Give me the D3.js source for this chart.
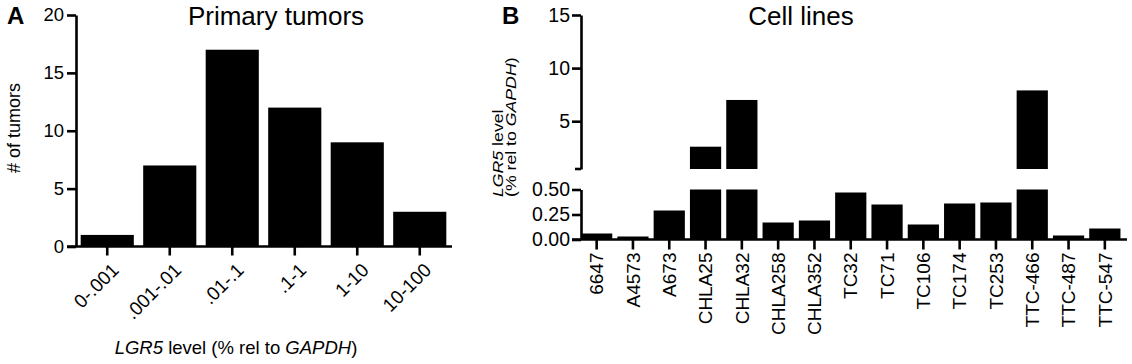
<!DOCTYPE html>
<html>
<head>
<meta charset="utf-8">
<script src="https://cdn.jsdelivr.net/npm/d3@7"></script>
<style>
  body { margin: 0; background: #fff; }
  svg text { font-family: 'Liberation Sans', Arial, sans-serif; fill: #000; }
  .axis path, .axis line { stroke: #000; stroke-width: 2.6; }
  .axis text { font-size: 18.5px; }
</style>
</head>
<body>
<div id="chart"></div>
<script>
// panel A: primary tumors histogram
const bins = ['0-.001', '.001-.01', '.01-.1', '.1-1', '1-10', '10-100']
const tumorCounts = [1, 7, 17, 12, 9, 3]
const tumorTicks = [0, 5, 10, 15, 20]

// panel B: cell lines, broken y axis
const cellLines = ['6647', 'A4573', 'A673', 'CHLA25', 'CHLA32', 'CHLA258', 'CHLA352',
  'TC32', 'TC71', 'TC106', 'TC174', 'TC253', 'TTC-466', 'TTC-487', 'TTC-547']
const lgr5Levels = [0.06, 0.03, 0.29, 2.6, 7.0, 0.17, 0.19, 0.47, 0.35, 0.15, 0.36, 0.37, 7.9, 0.04, 0.11]
const upperTicks = [5, 10, 15]
const lowerTicks = [0, 0.25, 0.5]
const breakAt = 0.5

const svg = d3.select('#chart')
  .append('svg')
  .attr('width', 1132)
  .attr('height', 364)

// ---------- panel A ----------
const xA = d3.scaleBand()
  .domain(bins)
  .range([76, 451])
  .paddingInner(0.15)
  .paddingOuter(0.075)

const yA = d3.scaleLinear()
  .domain([0, 20])
  .range([246.5, 15])

const gA = svg.append('g')

gA.selectAll('rect')
  .data(tumorCounts)
  .enter()
  .append('rect')
  .attr('x', function (d, i) { return xA(bins[i]) })
  .attr('width', xA.bandwidth())
  .attr('y', function (d) { return yA(d) })
  .attr('height', function (d) { return yA(0) - yA(d) })
  .attr('fill', '#000')

gA.append('g')
  .attr('class', 'axis')
  .attr('transform', 'translate(76,0)')
  .call(d3.axisLeft(yA).tickValues(tumorTicks).tickSize(9).tickSizeOuter(0).tickPadding(3))

const xAxisA = gA.append('g')
  .attr('class', 'axis')
  .attr('transform', 'translate(0,' + yA(0) + ')')
  .call(d3.axisBottom(xA).tickSize(9).tickSizeOuter(0))

xAxisA.select('.domain').attr('d', 'M67,0H452')

xAxisA.selectAll('text')
  .style('font-size', '19px')
  .style('text-anchor', 'end')
  .attr('y', 0)
  .attr('dy', '0.35em')
  .attr('transform', 'translate(8,20) rotate(-45)')

gA.append('text')
  .attr('x', 276)
  .attr('y', 25)
  .attr('text-anchor', 'middle')
  .style('font-size', '26px')
  .text('Primary tumors')

gA.append('text')
  .attr('transform', 'translate(20,128) rotate(-90)')
  .attr('text-anchor', 'middle')
  .style('font-size', '18px')
  .text('# of tumors')

const titleA = gA.append('text')
  .attr('x', 236)
  .attr('y', 354)
  .attr('text-anchor', 'middle')
  .style('font-size', '18.5px')
titleA.append('tspan').style('font-style', 'italic').text('LGR5')
titleA.append('tspan').text(' level (% rel to ')
titleA.append('tspan').style('font-style', 'italic').text('GAPDH')
titleA.append('tspan').text(')')

gA.append('text')
  .attr('x', 7)
  .attr('y', 24)
  .style('font-size', '24px')
  .style('font-weight', 'bold')
  .text('A')

// ---------- panel B ----------
const xB = d3.scaleBand()
  .domain(cellLines)
  .range([578.5, 1123])
  .paddingInner(0.14)
  .paddingOuter(0.07)

const yUp = d3.scaleLinear()
  .domain([breakAt, 15])
  .range([169, 15])

const yLow = d3.scaleLinear()
  .domain([0, breakAt])
  .range([239.5, 189.5])

const gB = svg.append('g')

// lower part of every bar, capped at the break
gB.selectAll('rect.low')
  .data(lgr5Levels)
  .enter()
  .append('rect')
  .attr('class', 'low')
  .attr('x', function (d, i) { return xB(cellLines[i]) })
  .attr('width', xB.bandwidth())
  .attr('y', function (d) { return yLow(Math.min(d, breakAt)) })
  .attr('height', function (d) { return yLow(0) - yLow(Math.min(d, breakAt)) })
  .attr('fill', '#000')

// upper part for bars above the break
gB.selectAll('rect.up')
  .data(lgr5Levels.map(function (d, i) { return { name: cellLines[i], value: d } })
    .filter(function (d) { return d.value > breakAt }))
  .enter()
  .append('rect')
  .attr('class', 'up')
  .attr('x', function (d) { return xB(d.name) })
  .attr('width', xB.bandwidth())
  .attr('y', function (d) { return yUp(d.value) })
  .attr('height', function (d) { return yUp(breakAt) - yUp(d.value) })
  .attr('fill', '#000')

gB.append('g')
  .attr('class', 'axis')
  .attr('transform', 'translate(581,0)')
  .call(d3.axisLeft(yUp).tickValues(upperTicks).tickSize(9).tickSizeOuter(0).tickPadding(2))
  .selectAll('text').style('font-size', '19.5px')

// short mark closing the upper segment
gB.append('line')
  .attr('x1', 575)
  .attr('x2', 581)
  .attr('y1', yUp(breakAt))
  .attr('y2', yUp(breakAt))
  .attr('stroke', '#000')
  .attr('stroke-width', 2.6)

gB.append('g')
  .attr('class', 'axis')
  .attr('transform', 'translate(581,0)')
  .call(d3.axisLeft(yLow).tickValues(lowerTicks).tickFormat(d3.format('.2f')).tickSize(9).tickSizeOuter(0).tickPadding(2))
  .selectAll('text').style('font-size', '19.5px')

const xAxisB = gB.append('g')
  .attr('class', 'axis')
  .attr('transform', 'translate(0,' + yLow(0) + ')')
  .call(d3.axisBottom(xB).tickSize(10).tickSizeOuter(0))

xAxisB.select('.domain').attr('d', 'M572,0H1127')

xAxisB.selectAll('text')
  .style('font-size', '19px')
  .style('text-anchor', 'end')
  .attr('y', 0)
  .attr('x', -13)
  .attr('dy', '0.35em')
  .attr('transform', 'rotate(-90)')

gB.append('text')
  .attr('x', 801)
  .attr('y', 25)
  .attr('text-anchor', 'middle')
  .style('font-size', '26px')
  .text('Cell lines')

// two-line rotated label, stretched along its length like the original
const labB1 = gB.append('text')
  .attr('transform', 'translate(503,197) rotate(-90) scale(1.18,1)')
  .style('font-size', '15px')
labB1.append('tspan').style('font-style', 'italic').text('LGR5')
labB1.append('tspan').text(' level')

const labB2 = gB.append('text')
  .attr('transform', 'translate(516,197) rotate(-90) scale(1.18,1)')
  .style('font-size', '15px')
labB2.append('tspan').text('(% rel to ')
labB2.append('tspan').style('font-style', 'italic').text('GAPDH')
labB2.append('tspan').text(')')

gB.append('text')
  .attr('x', 502)
  .attr('y', 24)
  .style('font-size', '24px')
  .style('font-weight', 'bold')
  .text('B')
</script>
</body>
</html>
